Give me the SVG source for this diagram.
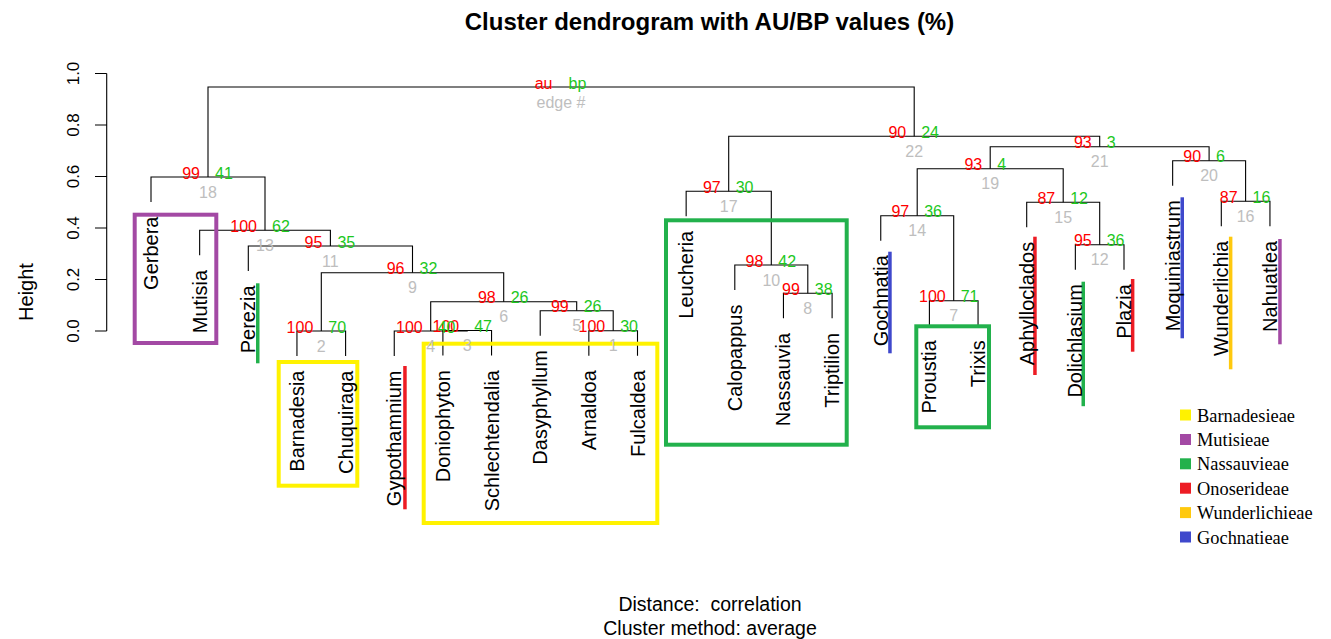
<svg xmlns="http://www.w3.org/2000/svg" width="1331" height="639" viewBox="0 0 1331 639">
<style>
text{font-family:"Liberation Sans",Arial,sans-serif}
.ttl{font-size:24px;font-weight:bold}
.sub{font-size:19.5px}
.tick{font-size:17px}
.ylab{font-size:20px}
.leaf{font-size:20px;fill:#000}
.au{font-size:16px;fill:#FF0000;text-anchor:end}
.bp{font-size:16px;fill:#1DC81D}
.ed{font-size:16px;fill:#BEBEBE;text-anchor:middle}
#legend text{font-family:"Liberation Serif","Times New Roman",serif;font-size:18.4px}
.ln{fill:none;stroke:#000;stroke-width:1.1}
.box{fill:none;stroke-width:4}
</style>
<rect width="1331" height="639" fill="#fff"/>
<text class="ttl" x="709.5" y="30" text-anchor="middle">Cluster dendrogram with AU/BP values (%)</text>
<text class="sub" x="710" y="611" text-anchor="middle" xml:space="preserve">Distance:  correlation</text>
<text class="sub" x="710" y="634.5" text-anchor="middle">Cluster method: average</text>

<g id="axis">
<path class="ln" d="M106.7 73.5V331M95 73.5H106.7M95 125H106.7M95 176.5H106.7M95 228H106.7M95 279.5H106.7M95 331H106.7"/>
<g class="tick" text-anchor="middle">
<text transform="translate(79,73.5) rotate(-90)">1.0</text>
<text transform="translate(79,125) rotate(-90)">0.8</text>
<text transform="translate(79,176.5) rotate(-90)">0.6</text>
<text transform="translate(79,228) rotate(-90)">0.4</text>
<text transform="translate(79,279.5) rotate(-90)">0.2</text>
<text transform="translate(79,331) rotate(-90)">0.0</text>
</g>
<text class="ylab" text-anchor="middle" transform="translate(33,292) rotate(-90)">Height</text>
</g>

<g id="connectors">
<path class="ln" d="M588.85 355.7V330.7H637.5V355.7"/>
<path class="ln" d="M296.95 356V331H345.6V356"/>
<path class="ln" d="M442.9 355.5V330.5H491.55V355.5"/>
<path class="ln" d="M394.25 356V331H467.2V330.5"/>
<path class="ln" d="M540.2 335.7V310.7H613.2V330.7"/>
<path class="ln" d="M430.7 331V301.7H576.7V310.7"/>
<path class="ln" d="M929.4 325.7V300.7H978.05V325.7"/>
<path class="ln" d="M783.45 318.3V293.3H832.1V318.3"/>
<path class="ln" d="M321.3 331V272.7H503.7V301.7"/>
<path class="ln" d="M734.8 290V265H807.8V293.3"/>
<path class="ln" d="M248.3 271V246H412.5V272.7"/>
<path class="ln" d="M1075.35 269.7V244.7H1124V269.7"/>
<path class="ln" d="M199.65 255.3V230.3H330.4V246"/>
<path class="ln" d="M880.75 240.7V215.7H953.7V300.7"/>
<path class="ln" d="M1026.7 227.3V202.3H1099.7V244.7"/>
<path class="ln" d="M1221.3 226.3V201.3H1269.95V226.3"/>
<path class="ln" d="M686.15 216.3V191.3H771.3V265"/>
<path class="ln" d="M151 202V177H265V230.3"/>
<path class="ln" d="M917.2 215.7V168.7H1063.2V202.3"/>
<path class="ln" d="M1172.65 185.7V160.7H1245.6V201.3"/>
<path class="ln" d="M990.2 168.7V146.7H1209.1V160.7"/>
<path class="ln" d="M728.7 191.3V136.3H1099.7V146.7"/>
<path class="ln" d="M208 177V87H914.2V136.3"/>
</g>

<g id="boxes">
<rect class="box" stroke="#A349A4" x="134.7" y="214.7" width="81.6" height="128.3"/>
<rect class="box" stroke="#FFF200" x="278.7" y="362" width="78.6" height="123.7"/>
<rect class="box" stroke="#FFF200" x="423.7" y="343.7" width="233.6" height="179.3"/>
<rect class="box" stroke="#22B14C" x="666" y="220.3" width="180.7" height="224.4"/>
<rect class="box" stroke="#22B14C" x="916.3" y="326.3" width="72.7" height="101"/>
</g>

<g id="bars">
<rect fill="#22B14C" x="256" y="283.3" width="3.5" height="80"/>
<rect fill="#ED1C24" x="403.2" y="366" width="3.5" height="143.3"/>
<rect fill="#3F48CC" x="888.2" y="251.7" width="3.5" height="101.6"/>
<rect fill="#ED1C24" x="1033.2" y="236.7" width="3.5" height="138.3"/>
<rect fill="#22B14C" x="1081.5" y="281.7" width="3.5" height="124.5"/>
<rect fill="#ED1C24" x="1130.9" y="279" width="3.5" height="72.7"/>
<rect fill="#3F48CC" x="1180.5" y="197.3" width="3.5" height="141"/>
<rect fill="#FFC90E" x="1228.9" y="236.7" width="3.5" height="132.6"/>
<rect fill="#A349A4" x="1278.2" y="239" width="3.5" height="105.3"/>
</g>

<g class="leaf" text-anchor="end">
<g id="leaf-Gerbera"><text transform="translate(158,216.5) rotate(-90)">Gerbera</text></g>
<g id="leaf-Mutisia"><text transform="translate(206.65,269.8) rotate(-90)">Mutisia</text></g>
<g id="leaf-Perezia"><text transform="translate(255.3,285.5) rotate(-90)">Perezia</text></g>
<g id="leaf-Barnadesia"><text transform="translate(303.95,370.5) rotate(-90)">Barnadesia</text></g>
<g id="leaf-Chuquiraga"><text transform="translate(352.6,370.5) rotate(-90)">Chuquiraga</text></g>
<g id="leaf-Gypothamnium"><text transform="translate(401.25,370.5) rotate(-90)">Gypothamnium</text></g>
<g id="leaf-Doniophyton"><text transform="translate(449.9,370) rotate(-90)">Doniophyton</text></g>
<g id="leaf-Schlechtendalia"><text transform="translate(498.55,370) rotate(-90)">Schlechtendalia</text></g>
<g id="leaf-Dasyphyllum"><text transform="translate(547.2,350.2) rotate(-90)">Dasyphyllum</text></g>
<g id="leaf-Arnaldoa"><text transform="translate(595.85,370.2) rotate(-90)">Arnaldoa</text></g>
<g id="leaf-Fulcaldea"><text transform="translate(644.5,370.2) rotate(-90)">Fulcaldea</text></g>
<g id="leaf-Leucheria"><text transform="translate(693.15,230.8) rotate(-90)">Leucheria</text></g>
<g id="leaf-Calopappus"><text transform="translate(741.8,304.5) rotate(-90)">Calopappus</text></g>
<g id="leaf-Nassauvia"><text transform="translate(790.45,332.8) rotate(-90)">Nassauvia</text></g>
<g id="leaf-Triptilion"><text transform="translate(839.1,332.8) rotate(-90)">Triptilion</text></g>
<g id="leaf-Gochnatia"><text transform="translate(887.75,255.2) rotate(-90)">Gochnatia</text></g>
<g id="leaf-Proustia"><text transform="translate(936.4,340.2) rotate(-90)">Proustia</text></g>
<g id="leaf-Trixis"><text transform="translate(985.05,340.2) rotate(-90)">Trixis</text></g>
<g id="leaf-Aphylloclados"><text transform="translate(1033.7,241.8) rotate(-90)">Aphylloclados</text></g>
<g id="leaf-Dolichlasium"><text transform="translate(1082.35,284.2) rotate(-90)">Dolichlasium</text></g>
<g id="leaf-Plazia"><text transform="translate(1131,284.2) rotate(-90)">Plazia</text></g>
<g id="leaf-Moquiniastrum"><text transform="translate(1179.65,200.2) rotate(-90)">Moquiniastrum</text></g>
<g id="leaf-Wunderlichia"><text transform="translate(1228.3,240.8) rotate(-90)">Wunderlichia</text></g>
<g id="leaf-Nahuatlea"><text transform="translate(1276.95,240.8) rotate(-90)">Nahuatlea</text></g>
</g>

<g id="node-root"><text class="au" x="552.5" y="88.5">au</text><text class="bp" x="568.5" y="88.5">bp</text><text class="ed" x="561" y="108">edge #</text></g>
<g id="node-1"><text class="au" x="605.2" y="332.2">100</text><text class="bp" x="620.2" y="332.2">30</text><text class="ed" x="613.2" y="351.4">1</text></g>
<g id="node-2"><text class="au" x="313.3" y="332.5">100</text><text class="bp" x="328.3" y="332.5">70</text><text class="ed" x="321.3" y="351.7">2</text></g>
<g id="node-3"><text class="au" x="459.2" y="332">100</text><text class="bp" x="474.2" y="332">47</text><text class="ed" x="467.2" y="351.2">3</text></g>
<g id="node-4"><text class="au" x="422.7" y="332.5">100</text><text class="bp" x="437.7" y="332.5">40</text><text class="ed" x="430.7" y="351.7">4</text></g>
<g id="node-5"><text class="au" x="568.7" y="312.2">99</text><text class="bp" x="583.7" y="312.2">26</text><text class="ed" x="576.7" y="331.4">5</text></g>
<g id="node-6"><text class="au" x="495.7" y="303.2">98</text><text class="bp" x="510.7" y="303.2">26</text><text class="ed" x="503.7" y="322.4">6</text></g>
<g id="node-7"><text class="au" x="945.7" y="302.2">100</text><text class="bp" x="960.7" y="302.2">71</text><text class="ed" x="953.7" y="321.4">7</text></g>
<g id="node-8"><text class="au" x="799.8" y="294.8">99</text><text class="bp" x="814.8" y="294.8">38</text><text class="ed" x="807.8" y="314">8</text></g>
<g id="node-9"><text class="au" x="404.5" y="274.2">96</text><text class="bp" x="419.5" y="274.2">32</text><text class="ed" x="412.5" y="293.4">9</text></g>
<g id="node-10"><text class="au" x="763.3" y="266.5">98</text><text class="bp" x="778.3" y="266.5">42</text><text class="ed" x="771.3" y="285.7">10</text></g>
<g id="node-11"><text class="au" x="322.4" y="247.5">95</text><text class="bp" x="337.4" y="247.5">35</text><text class="ed" x="330.4" y="266.7">11</text></g>
<g id="node-12"><text class="au" x="1091.7" y="246.2">95</text><text class="bp" x="1106.7" y="246.2">36</text><text class="ed" x="1099.7" y="265.4">12</text></g>
<g id="node-13"><text class="au" x="257" y="231.8">100</text><text class="bp" x="272" y="231.8">62</text><text class="ed" x="265" y="251">13</text></g>
<g id="node-14"><text class="au" x="909.2" y="217.2">97</text><text class="bp" x="924.2" y="217.2">36</text><text class="ed" x="917.2" y="236.4">14</text></g>
<g id="node-15"><text class="au" x="1055.2" y="203.8">87</text><text class="bp" x="1070.2" y="203.8">12</text><text class="ed" x="1063.2" y="223">15</text></g>
<g id="node-16"><text class="au" x="1237.6" y="202.8">87</text><text class="bp" x="1252.6" y="202.8">16</text><text class="ed" x="1245.6" y="222">16</text></g>
<g id="node-17"><text class="au" x="720.7" y="192.8">97</text><text class="bp" x="735.7" y="192.8">30</text><text class="ed" x="728.7" y="212">17</text></g>
<g id="node-18"><text class="au" x="200" y="178.5">99</text><text class="bp" x="215" y="178.5">41</text><text class="ed" x="208" y="197.7">18</text></g>
<g id="node-19"><text class="au" x="982.2" y="170.2">93</text><text class="bp" x="997.2" y="170.2">4</text><text class="ed" x="990.2" y="189.4">19</text></g>
<g id="node-20"><text class="au" x="1201.1" y="162.2">90</text><text class="bp" x="1216.1" y="162.2">6</text><text class="ed" x="1209.1" y="181.4">20</text></g>
<g id="node-21"><text class="au" x="1091.7" y="148.2">93</text><text class="bp" x="1106.7" y="148.2">3</text><text class="ed" x="1099.7" y="167.4">21</text></g>
<g id="node-22"><text class="au" x="906.2" y="137.8">90</text><text class="bp" x="921.2" y="137.8">24</text><text class="ed" x="914.2" y="157">22</text></g>

<g id="legend">
<rect fill="#FFF200" x="1180" y="409.5" width="11" height="11"/><text x="1197" y="421.5">Barnadesieae</text>
<rect fill="#A349A4" x="1180" y="434" width="11" height="11"/><text x="1197" y="446">Mutisieae</text>
<rect fill="#22B14C" x="1180" y="458.3" width="11" height="11"/><text x="1197" y="470.3">Nassauvieae</text>
<rect fill="#ED1C24" x="1180" y="482.7" width="11" height="11"/><text x="1197" y="494.7">Onoserideae</text>
<rect fill="#FFC90E" x="1180" y="507.1" width="11" height="11"/><text x="1197" y="519.1">Wunderlichieae</text>
<rect fill="#3F48CC" x="1180" y="531.5" width="11" height="11"/><text x="1197" y="543.5">Gochnatieae</text>
</g>
</svg>
